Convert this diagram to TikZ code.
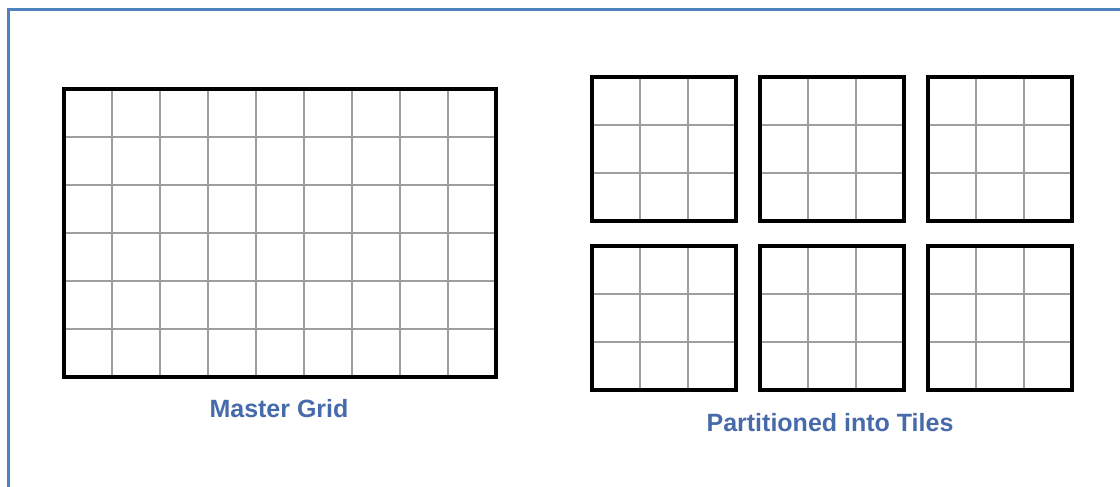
\documentclass[tikz,border=0pt]{standalone}
\usepackage{fontspec}
\setmainfont{Liberation Sans}
\definecolor{framecol}{RGB}{79,129,189}
\definecolor{capcol}{RGB}{70,106,170}
\tikzset{
  gridline/.style={draw=black!38, line width=1.2pt},
  border/.style={draw=black, line width=4.5pt},
  caption/.style={anchor=base, text=capcol, font=\fontsize{25}{30}\selectfont\bfseries}
}
\begin{document}
\begin{tikzpicture}[x=1pt, y=1pt]
    \useasboundingbox (0,0) rectangle (1120,487);
    \draw[framecol, line width=2.2pt] (8.5,-20) -- (8.5,477.5) -- (1140,477.5);

    % master grid, 9 x 6 cells
    \begin{scope}[shift={(64,110)}]
        \draw[gridline] (0,0) grid[step=48pt] (432,288);
        \draw[border] (0,0) rectangle (432,288);
    \end{scope}
    \node[caption] (master) at (279,69) {Master Grid};

    % tiles, 3 x 3 cells each
    \foreach \tx in {592,760,928}{
        \foreach \ty in {97,266}{
            \begin{scope}[shift={(\tx,\ty)}]
                \draw[gridline] (0,0) grid[step=48pt] (144,144);
                \draw[border] (0,0) rectangle (144,144);
            \end{scope}
        }
    }
    \node[caption] (tiles) at (830,55.5) {Partitioned into Tiles};
\end{tikzpicture}
\end{document}
